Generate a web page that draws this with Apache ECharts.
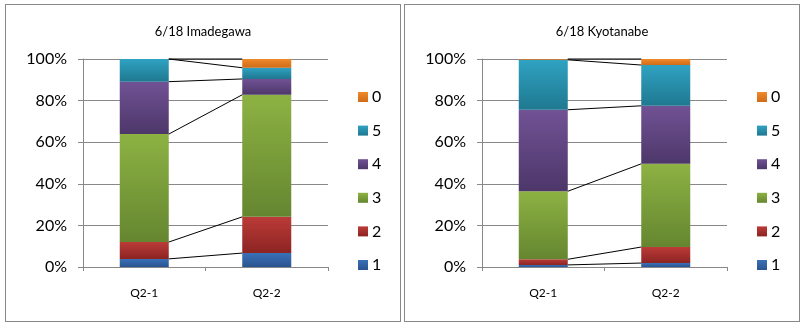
<!DOCTYPE html>
<html>
<head>
<meta charset="utf-8">
<script src="https://cdn.jsdelivr.net/npm/echarts@6/dist/echarts.min.js"></script>
<style>
  body { margin: 0; background: #fff; }
  .box { position: absolute; top: 4px; height: 318px; border: 1px solid #888; box-sizing: border-box; background: #fff; }
</style>
</head>
<body>
<div id="imaChart" class="box" style="left:5px;width:396px;"></div>
<div id="kyoChart" class="box" style="left:404px;width:396px;"></div>
<script>
// categories and levels (stack order bottom -> top)
var categories = ['Q2-1', 'Q2-2'];
var levels = ['1', '2', '3', '4', '5', '0'];
var legendOrder = ['0', '5', '4', '3', '2', '1'];

// percentages per level (1,2,3,4,5,0)
var imaQ21 = [3.9, 8.1, 51.9, 25.2, 10.9, 0];
var imaQ22 = [6.7, 17.4, 58.7, 7.6, 5.4, 4.2];
var kyoQ21 = [1.0, 2.7, 32.7, 39.2, 24.0, 0.4];
var kyoQ22 = [1.9, 7.7, 40.0, 27.9, 19.6, 2.9];

var yTicks = [0, 20, 40, 60, 80, 100];

// top / bottom colours of each level
var colorTop = ['#3a70b8', '#bb3b38', '#8db243', '#715295', '#2fa2c2', '#f08a2c'];
var colorBot = ['#2a5490', '#8c2422', '#658630', '#4d3769', '#1f7890', '#cf6a18'];

function makeChart(id, title, q1, q2) {
	var chart = echarts.init(document.getElementById(id));
	var font = 'Lato, "Open Sans", sans-serif';

	var series = levels.map(function (lv, i) {
		return {
			name: lv,
			type: 'bar',
			stack: 'all',
			barWidth: '40%',
			data: [q1[i], q2[i]],
			itemStyle: {
				color: new echarts.graphic.LinearGradient(0, 0, 0, 1, [
					{ offset: 0, color: colorTop[i] },
					{ offset: 1, color: colorBot[i] }
				])
			}
		};
	});

	// series lines: cumulative tops of each segment
	var lineData = [];
	var c1 = 0, c2 = 0;
	for (var i = 0; i < levels.length; i++) {
		c1 += q1[i];
		c2 += q2[i];
		lineData.push([0, c1, c2]);
	}
	series.push({
		type: 'custom',
		name: 'serieslines',
		z: 5,
		encode: { x: 0, y: 1 },
		data: lineData,
		renderItem: function (params, api) {
			var a = api.coord([0, api.value(1)]);
			var b = api.coord([1, api.value(2)]);
			var band = api.size([1, 0])[0];
			return {
				type: 'line',
				shape: { x1: a[0] + band * 0.2, y1: a[1], x2: b[0] - band * 0.2, y2: b[1] },
				style: { stroke: '#000', lineWidth: 1 }
			};
		}
	});

	chart.setOption({
		animation: false,
		title: {
			text: title,
			left: 'center',
			top: 15,
			textStyle: { fontFamily: font, fontSize: 13, fontWeight: 'normal', color: '#000' }
		},
		legend: {
			orient: 'vertical',
			left: 347,
			top: 79,
			data: legendOrder,
			icon: 'rect',
			itemWidth: 10,
			itemHeight: 10,
			itemGap: 17.6,
			textStyle: { fontFamily: font, fontSize: 16, lineHeight: 16, color: '#000', padding: [0, 0, 0, -1] }
		},
		grid: { left: 77, top: 54, width: 245, height: 208 },
		xAxis: {
			type: 'category',
			data: categories,
			axisLine: { lineStyle: { color: '#888' } },
			axisTick: { show: true, length: 4, lineStyle: { color: '#888' } },
			axisLabel: { fontFamily: font, fontSize: 12, color: '#000', margin: 20 }
		},
		yAxis: {
			type: 'value',
			min: yTicks[0],
			max: yTicks[yTicks.length - 1],
			interval: 20,
			axisLine: { show: true, lineStyle: { color: '#888' } },
			axisTick: { show: true, length: 5, lineStyle: { color: '#888' } },
			splitLine: { lineStyle: { color: '#888' } },
			axisLabel: { fontFamily: font, fontSize: 16, color: '#000', margin: 16, formatter: '{value}%' }
		},
		series: series
	});
	return chart;
}

makeChart('imaChart', '6/18 Imadegawa', imaQ21, imaQ22);
makeChart('kyoChart', '6/18 Kyotanabe', kyoQ21, kyoQ22);
</script>
</body>
</html>
